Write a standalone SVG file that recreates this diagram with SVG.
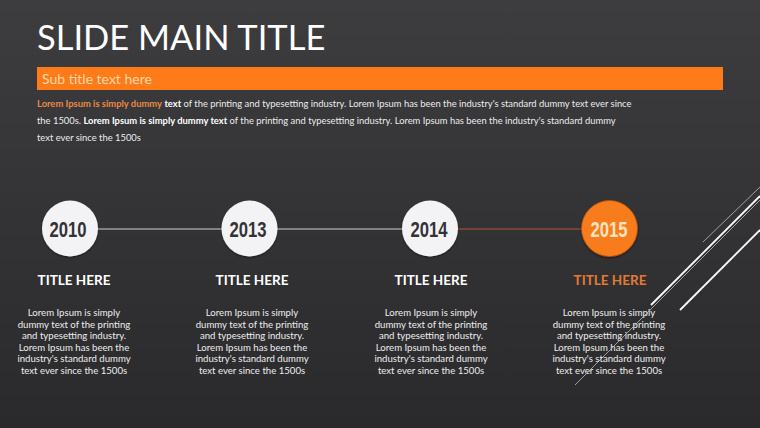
<svg xmlns="http://www.w3.org/2000/svg" width="760" height="428" viewBox="0 0 760 428">
<defs>
<linearGradient id="bg" x1="0" y1="0" x2="0" y2="1">
<stop offset="0" stop-color="#3d3c3f"/>
<stop offset="1" stop-color="#2a292c"/>
</linearGradient>
<filter id="sh" x="-30%" y="-30%" width="160%" height="160%">
<feDropShadow dx="0" dy="1" stdDeviation="1.2" flood-color="#000" flood-opacity="0.5"/>
</filter>
</defs>
<style>
.title{font-family:Lato,"Liberation Sans",sans-serif;font-size:34.5px;fill:#ffffff;}
.sub{font-family:Lato,"Liberation Sans",sans-serif;font-size:14px;fill:#ffd9a8;}
.para{font-family:Lato,"Liberation Sans",sans-serif;font-size:9.4px;fill:#ececec;}
.b{font-weight:bold;fill:#ffffff;}
.o{font-weight:bold;fill:#e98a45;}
.year{font-family:"Liberation Sans","DejaVu Sans",sans-serif;font-weight:bold;font-size:22.5px;fill:#333236;text-anchor:middle;}
.yearo{fill:#fde4c2;}
.wc{fill:#f3f2f4;}
.oc{fill:#f97b1f;stroke:#b5520f;stroke-width:0.8;}
.th{font-family:Lato,"Liberation Sans",sans-serif;font-size:13.5px;font-weight:bold;fill:#ffffff;text-anchor:middle;}
.tho{fill:#e37a32;}
.body{font-family:Lato,"Liberation Sans",sans-serif;font-size:9.6px;fill:#ededed;text-anchor:middle;}
.conn{stroke:#cfcfcf;stroke-width:1.2;fill:none;}
.conno{stroke:#b4553a;stroke-width:1.2;fill:none;}
.dthin{stroke:#bdbdbd;stroke-width:0.8;}
.dthick{stroke:#ffffff;stroke-width:1.8;}
</style>
<rect width="760" height="428" fill="url(#bg)"/>
<text class="title" x="37" y="50">SLIDE MAIN TITLE</text>
<rect x="37" y="67" width="686" height="23" fill="#ff7b1a"/>
<text class="sub" x="42" y="84">Sub title text here</text>
<text class="para" x="37" y="107"><tspan class="o">Lorem Ipsum is simply dummy</tspan> <tspan class="b">text</tspan> of the printing and typesetting industry. Lorem Ipsum has been the industry's standard dummy text ever since</text>
<text class="para" x="37" y="124">the 1500s. <tspan class="b">Lorem Ipsum is simply dummy text</tspan> of the printing and typesetting industry. Lorem Ipsum has been the industry's standard dummy</text>
<text class="para" x="37" y="141">text ever since the 1500s</text>
<g id="connectors">
<line class="conn" x1="97" y1="229" x2="222" y2="229"/>
<line class="conn" x1="277" y1="229" x2="402" y2="229"/>
<line class="conno" x1="458" y1="229" x2="582" y2="229"/>
</g>
<g id="node-2010">
<circle class="wc" cx="70" cy="228.5" r="28" filter="url(#sh)"/>
<text class="year" x="68" y="237" textLength="37" lengthAdjust="spacingAndGlyphs">2010</text>
<text class="th" x="74" y="285">TITLE HERE</text>
<text class="body" y="316"><tspan x="74">Lorem Ipsum is simply</tspan><tspan x="74" dy="11.5">dummy text of the printing</tspan><tspan x="74" dy="11.5">and typesetting industry.</tspan><tspan x="74" dy="11.5">Lorem Ipsum has been the</tspan><tspan x="74" dy="11.5">industry's standard dummy</tspan><tspan x="74" dy="11.5">text ever since the 1500s</tspan></text>
</g>
<g id="node-2013">
<circle class="wc" cx="249.5" cy="228.5" r="28" filter="url(#sh)"/>
<text class="year" x="248" y="237" textLength="37" lengthAdjust="spacingAndGlyphs">2013</text>
<text class="th" x="252" y="285">TITLE HERE</text>
<text class="body" y="316"><tspan x="252">Lorem Ipsum is simply</tspan><tspan x="252" dy="11.5">dummy text of the printing</tspan><tspan x="252" dy="11.5">and typesetting industry.</tspan><tspan x="252" dy="11.5">Lorem Ipsum has been the</tspan><tspan x="252" dy="11.5">industry's standard dummy</tspan><tspan x="252" dy="11.5">text ever since the 1500s</tspan></text>
</g>
<g id="node-2014">
<circle class="wc" cx="430" cy="228.5" r="28" filter="url(#sh)"/>
<text class="year" x="429" y="237" textLength="37" lengthAdjust="spacingAndGlyphs">2014</text>
<text class="th" x="431" y="285">TITLE HERE</text>
<text class="body" y="316"><tspan x="431">Lorem Ipsum is simply</tspan><tspan x="431" dy="11.5">dummy text of the printing</tspan><tspan x="431" dy="11.5">and typesetting industry.</tspan><tspan x="431" dy="11.5">Lorem Ipsum has been the</tspan><tspan x="431" dy="11.5">industry's standard dummy</tspan><tspan x="431" dy="11.5">text ever since the 1500s</tspan></text>
</g>
<g id="node-2015">
<circle class="oc" cx="609.5" cy="228.5" r="28" filter="url(#sh)"/>
<text class="year yearo" x="609" y="237" textLength="37" lengthAdjust="spacingAndGlyphs">2015</text>
<text class="th tho" x="610" y="285">TITLE HERE</text>
<text class="body" y="316"><tspan x="609">Lorem Ipsum is simply</tspan><tspan x="609" dy="11.5">dummy text of the printing</tspan><tspan x="609" dy="11.5">and typesetting industry.</tspan><tspan x="609" dy="11.5">Lorem Ipsum has been the</tspan><tspan x="609" dy="11.5">industry's standard dummy</tspan><tspan x="609" dy="11.5">text ever since the 1500s</tspan></text>
</g>
<g id="decor">
<line class="dthin" x1="703" y1="242" x2="760" y2="187"/>
<line class="dthick" x1="651" y1="305" x2="760" y2="196"/>
<line class="dthin" x1="575" y1="385" x2="760" y2="200"/>
<line class="dthick" x1="680" y1="310" x2="760" y2="230"/>
</g>
</svg>
